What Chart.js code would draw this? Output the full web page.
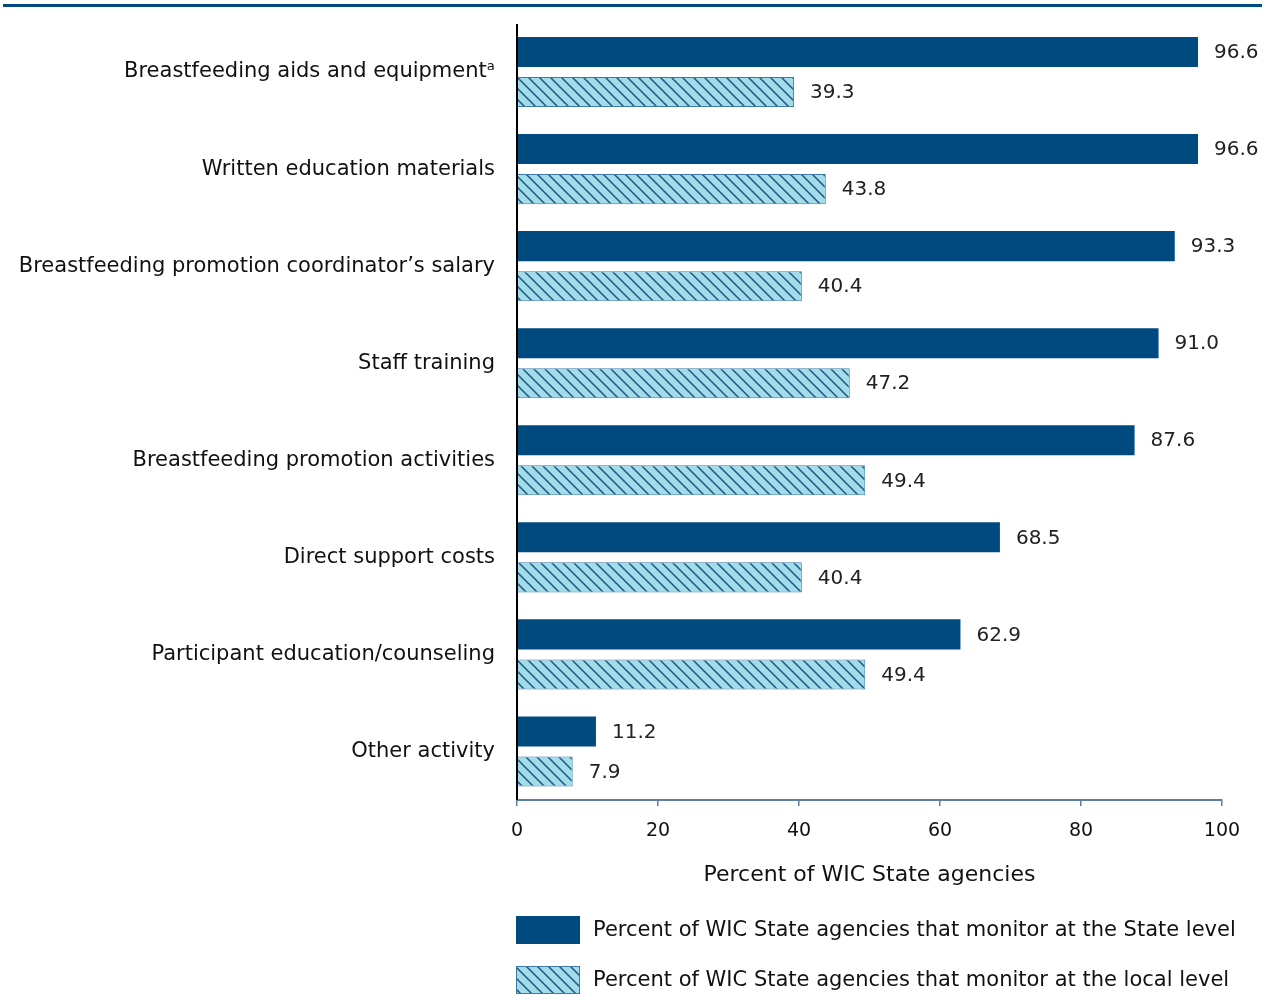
<!DOCTYPE html>
<html>
<head>
<meta charset="utf-8">
<script src="https://cdn.jsdelivr.net/npm/chart.js@4.4.1/dist/chart.umd.min.js"></script>
<style>
  html, body { margin: 0; padding: 0; background: #fff; }
  #wrap { width: 1270px; height: 996px; position: relative; }
</style>
</head>
<body>
<div id="wrap"><canvas id="wicChart"></canvas></div>
<script>
// categories and values
const categories = [
    'Breastfeeding aids and equipment\u1d43',
    'Written education materials',
    'Breastfeeding promotion coordinator\u2019s salary',
    'Staff training',
    'Breastfeeding promotion activities',
    'Direct support costs',
    'Participant education/counseling',
    'Other activity'
];
const stateLevel = [96.6, 96.6, 93.3, 91.0, 87.6, 68.5, 62.9, 11.2];
const localLevel = [39.3, 43.8, 40.4, 47.2, 49.4, 40.4, 49.4, 7.9];
const seriesNames = [
    'Percent of WIC State agencies that monitor at the State level',
    'Percent of WIC State agencies that monitor at the local level'
];
const xTicks = [0, 20, 40, 60, 80, 100];
const xTitle = 'Percent of WIC State agencies';

const FONT = '"DejaVu Sans", "Noto Sans", sans-serif';
const NAVY = '#004a80';
const HATCH_BG = '#a1dce8';
const HATCH_LINE = '#1d5585';
const AXIS_BLUE = '#5b7f9c';

// diagonal hatch fill for the local-level bars
const makeHatch = () => {
    const s = 11;
    const c = document.createElement('canvas');
    c.width = s; c.height = s;
    const g = c.getContext('2d');
    g.fillStyle = HATCH_BG;
    g.fillRect(0, 0, s, s);
    g.strokeStyle = HATCH_LINE;
    g.lineWidth = 1.5;
    g.beginPath();
    g.moveTo(-2, -2); g.lineTo(s + 2, s + 2);
    g.moveTo(-2, s - 2); g.lineTo(2, s + 2);
    g.moveTo(s - 2, -2); g.lineTo(s + 2, 2);
    g.stroke();
    return g.createPattern(c, 'repeat');
};
const hatch = makeHatch();

// rule across the top of the page
const topRule = {
    id: 'topRule',
    beforeDraw(chart) {
        const ctx = chart.ctx;
        ctx.save();
        ctx.fillStyle = '#004b85';
        ctx.fillRect(3, 4, 1259, 3);
        ctx.restore();
    }
};

// value labels at the end of each bar
const valueLabels = {
    id: 'valueLabels',
    afterDatasetsDraw(chart) {
        const ctx = chart.ctx;
        ctx.save();
        ctx.font = '20px ' + FONT;
        ctx.fillStyle = '#222';
        ctx.textBaseline = 'middle';
        ctx.textAlign = 'left';
        chart.data.datasets.forEach((ds, di) => {
            chart.getDatasetMeta(di).data.forEach((bar, i) => {
                ctx.fillText(ds.data[i].toFixed(1), bar.x + 16, bar.y + 1);
            });
        });
        ctx.restore();
    }
};

// left axis line drawn black over the bars' base
const leftAxis = {
    id: 'leftAxis',
    afterDatasetsDraw(chart) {
        const ctx = chart.ctx, a = chart.chartArea;
        ctx.save();
        ctx.strokeStyle = '#000';
        ctx.lineWidth = 2;
        ctx.beginPath();
        ctx.moveTo(a.left, 24);
        ctx.lineTo(a.left, a.bottom);
        ctx.stroke();
        ctx.restore();
    }
};

// stacked legend under the axis title
const stackedLegend = {
    id: 'stackedLegend',
    afterDraw(chart) {
        const ctx = chart.ctx;
        const left = 516, rows = [916, 966];
        ctx.save();
        ctx.font = '21px ' + FONT;
        ctx.textBaseline = 'middle';
        chart.data.datasets.forEach((ds, di) => {
            const y = rows[di];
            ctx.fillStyle = ds.backgroundColor;
            ctx.fillRect(left, y, 64, 28);
            ctx.strokeStyle = ds.borderColor;
            ctx.lineWidth = 1;
            ctx.strokeRect(left + 0.5, y + 0.5, 63, 27);
            ctx.fillStyle = '#111';
            ctx.fillText(ds.label, 593, y + 15);
        });
        ctx.restore();
    }
};

new Chart(document.getElementById('wicChart'), {
    type: 'bar',
    data: {
        labels: categories,
        datasets: [
            { label: seriesNames[0], data: stateLevel, backgroundColor: NAVY, borderColor: NAVY, borderWidth: 0 },
            { label: seriesNames[1], data: localLevel, backgroundColor: hatch, borderColor: '#3f7aa6', borderWidth: 1 }
        ]
    },
    options: {
        indexAxis: 'y',
        responsive: true,
        maintainAspectRatio: false,
        animation: false,
        categoryPercentage: 0.825,
        barPercentage: 0.75,
        layout: { padding: { top: 23.5, right: 48, left: 0, bottom: 0 } },
        plugins: { legend: { display: false }, tooltip: { enabled: false } },
        scales: {
            x: {
                min: 0, max: 100,
                afterFit: (scale) => { scale.height = 196; },
                afterBuildTicks: (scale) => { scale.ticks = xTicks.map(v => ({ value: v })); },
                grid: { display: true, drawOnChartArea: false, drawTicks: true, tickLength: 6, color: AXIS_BLUE, lineWidth: 1.5 },
                border: { display: true, color: AXIS_BLUE, width: 2 },
                ticks: { color: '#111', font: { family: FONT, size: 19 }, padding: 14 },
                title: { display: true, text: xTitle, color: '#111', font: { family: FONT, size: 22 }, padding: { top: 12, bottom: 108 } }
            },
            y: {
                afterFit: (scale) => {
                    scale.width = 517;
                    scale.paddingTop = 0;
                    scale.paddingBottom = 0;
                },
                grid: { display: false },
                border: { display: false },
                ticks: { color: '#111', font: { family: FONT, size: 21 }, padding: 14, crossAlign: 'near' }
            }
        }
    },
    plugins: [topRule, valueLabels, leftAxis, stackedLegend]
});
</script>
</body>
</html>
